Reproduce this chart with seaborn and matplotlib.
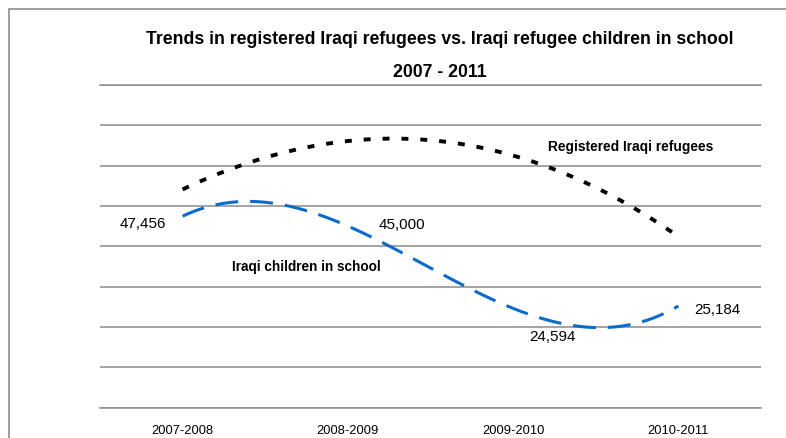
import numpy as np
import pandas as pd
import seaborn as sns
import matplotlib.pyplot as plt
from matplotlib.patches import Rectangle

# Datos (la serie de refugiados no tiene etiquetas: valores estimados)
periodos = ['2007-2008', '2008-2009', '2009-2010', '2010-2011']
refugiados_registrados = [54100, 66100, 62500, 42400]
ninos_escolarizados = [47456, 45000, 24594, 25184]

sns.set_theme(style="white")
plt.rcParams['font.family'] = ['Liberation Sans', 'DejaVu Sans']
plt.rcParams['lines.scale_dashes'] = False
plt.rcParams['text.color'] = 'black'
plt.rcParams['xtick.color'] = 'black'

df = pd.DataFrame({'pos': np.arange(len(periodos)),
                   'periodo': periodos,
                   'refugiados': refugiados_registrados,
                   'ninos': ninos_escolarizados})

gris = '#8c8c8c'
azul = '#0B6BCB'

fig = plt.figure(figsize=(7.86, 4.39), dpi=100)
ax = fig.add_axes([100 / 786, 1 - 408.5 / 439, 661 / 786, 322.5 / 439])

# Marco del gráfico (recortado a derecha y abajo)
fig.add_artist(Rectangle((9 / 786, -0.2), 1.2, 1.2 - 10 / 439,
                         transform=fig.transFigure, fill=False,
                         ec=gris, lw=1.2))

# Líneas de tendencia polinómicas de orden 3 (como en Excel)
sns.regplot(data=df, x='pos', y='refugiados', order=3, ci=None,
            scatter=False, truncate=True, ax=ax,
            line_kws=dict(color='black', lw=2.8, ls=(0, (5, 8.6)),
                          dash_capstyle='butt'))
sns.regplot(data=df, x='pos', y='ninos', order=3, ci=None,
            scatter=False, truncate=True, ax=ax,
            line_kws=dict(color=azul, lw=2.2, ls=(0, (16.5, 8.6)),
                          dash_capstyle='butt'))

# Etiquetas de datos (colocadas a mano, como en el original)
offsets = [(-29, -5), (39, 1.5), (28, -20), (28, -2)]
etiquetas = []
for i, (v, off) in enumerate(zip(ninos_escolarizados, offsets)):
    t = ax.annotate(f'{v:,}', xy=(i, v), xytext=off, textcoords='offset points',
                    ha='center', va='center', fontsize=12)
    etiquetas.append(t)

ax.set_xlim(-0.5, 3.5)
ax.set_ylim(0, 80000)
ax.set_yticks(np.arange(0, 80001, 10000))
ax.set_yticklabels([])
ax.yaxis.grid(True, color=gris, lw=1.1)
ax.set_xticks(df['pos'], periodos)
ax.tick_params(axis='both', length=0)
ax.tick_params(axis='x', labelsize=10, pad=12)
ax.set_xlabel('')
ax.set_ylabel('')
for s in ['left', 'right']:
    ax.spines[s].set_visible(False)
for s in ['top', 'bottom']:
    ax.spines[s].set_color(gris)
    ax.spines[s].set_linewidth(1.1)

# Nombres de las series
serie1 = fig.text(631 / 786, 1 - 147 / 439, 'Registered Iraqi refugees',
                  ha='center', va='center', fontsize=12, fontweight='bold')
serie2 = fig.text(306 / 786, 1 - 267 / 439, 'Iraqi children in school',
                  ha='center', va='center', fontsize=12, fontweight='bold')

# Título
titulo1 = fig.text(440 / 786, 1 - 44 / 439,
                   'Trends in registered Iraqi refugees vs. Iraqi refugee children in school',
                   ha='center', va='baseline', fontsize=13, fontweight='bold')
titulo2 = fig.text(440 / 786, 1 - 77 / 439, '2007 - 2011',
                   ha='center', va='baseline', fontsize=13, fontweight='bold')

# El original usa Calibri (más estrecha): se ajusta el tamaño al ancho medido
renderer = fig.canvas.get_renderer()


def ajustar(textos, ancho_px):
    w = textos[0].get_window_extent(renderer).width
    for t in textos:
        t.set_fontsize(t.get_fontsize() * ancho_px / w)


ajustar([titulo1, titulo2], 585)
ajustar([serie1], 165)
ajustar([serie2], 148)
ajustar(etiquetas, 46)
ajustar(ax.get_xticklabels(), 62)

plt.savefig('out.png', dpi=100)
